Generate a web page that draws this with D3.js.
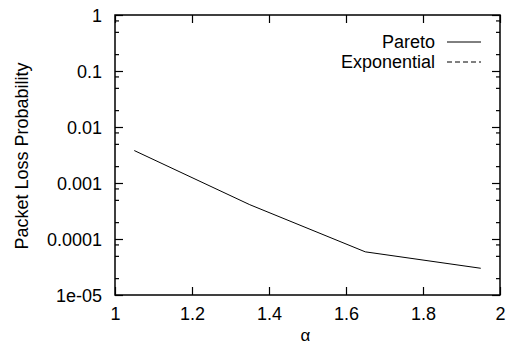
<!DOCTYPE html>
<html>
<head>
<meta charset="utf-8">
<script src="https://cdn.jsdelivr.net/npm/d3@7"></script>
<style>
  html, body { margin: 0; padding: 0; background: #fff; }
  svg { display: block; }
  text { font-family: "Liberation Sans", Arial, Helvetica, sans-serif; fill: #000; }
</style>
</head>
<body>
<svg id="chart" width="511" height="345"></svg>
<script>
// Shape parameter of the traffic distribution
const alphaValues = [1.05, 1.35, 1.65, 1.95];
// Packet loss probability for each traffic model
const paretoLoss = [0.0038, 0.00041, 0.000059, 0.00003];
const exponentialLoss = [0, 0, 0, 0];
// Axis ticks
const xTicks = [1, 1.2, 1.4, 1.6, 1.8, 2];
const xTickLabels = ["1", "1.2", "1.4", "1.6", "1.8", "2"];
const yTicks = [1e-5, 1e-4, 1e-3, 1e-2, 1e-1, 1];
const yTickLabels = ["1e-05", "0.0001", "0.001", "0.01", "0.1", "1"];
const yMinorMultipliers = [2, 5, 8];

const svg = d3.select("#chart");
const plotLeft = 115, plotRight = 500, plotTop = 15, plotBottom = 295;
const fs = 18;

const x = d3.scaleLinear().domain([1, 2]).range([plotLeft, plotRight]);
const y = d3.scaleLog().domain([1e-5, 1]).range([plotBottom, plotTop]);

const yMinor = [];
for (let i = 0; i < yTicks.length - 1; i++) {
  yMinorMultipliers.forEach(m => yMinor.push(yTicks[i] * m));
}

const majorLen = 8, minorLen = 4;

function styleAxis(g) {
  g.select(".domain").remove();
  g.selectAll("line").attr("stroke", "#000").attr("stroke-width", 1.2);
}

// Left axis: inward major ticks with labels
svg.append("g")
  .attr("transform", `translate(${plotLeft},0)`)
  .call(d3.axisLeft(y).tickValues(yTicks).tickSizeInner(-majorLen).tickSizeOuter(0)
    .tickFormat((d, i) => yTickLabels[i]))
  .call(styleAxis)
  .call(g => g.selectAll("text")
    .attr("x", -13).attr("dy", "0.36em")
    .style("font-size", fs + "px")
    .style("font-family", '"Liberation Sans", Arial, sans-serif'));

// Left minor ticks
svg.append("g")
  .attr("transform", `translate(${plotLeft},0)`)
  .call(d3.axisLeft(y).tickValues(yMinor).tickSizeInner(-minorLen).tickSizeOuter(0).tickFormat(""))
  .call(styleAxis);

// Right mirrored ticks
svg.append("g")
  .attr("transform", `translate(${plotRight},0)`)
  .call(d3.axisRight(y).tickValues(yTicks).tickSizeInner(-majorLen).tickSizeOuter(0).tickFormat(""))
  .call(styleAxis);
svg.append("g")
  .attr("transform", `translate(${plotRight},0)`)
  .call(d3.axisRight(y).tickValues(yMinor).tickSizeInner(-minorLen).tickSizeOuter(0).tickFormat(""))
  .call(styleAxis);

// Bottom axis with labels
svg.append("g")
  .attr("transform", `translate(0,${plotBottom})`)
  .call(d3.axisBottom(x).tickValues(xTicks).tickSizeInner(-majorLen).tickSizeOuter(0)
    .tickFormat((d, i) => xTickLabels[i]))
  .call(styleAxis)
  .call(g => g.selectAll("text")
    .attr("y", 24.5).attr("dy", 0)
    .style("font-size", fs + "px")
    .style("font-family", '"Liberation Sans", Arial, sans-serif'));

// Top mirrored ticks
svg.append("g")
  .attr("transform", `translate(0,${plotTop})`)
  .call(d3.axisTop(x).tickValues(xTicks).tickSizeInner(-majorLen).tickSizeOuter(0).tickFormat(""))
  .call(styleAxis);

// Plot frame
svg.append("rect")
  .attr("x", plotLeft).attr("y", plotTop)
  .attr("width", plotRight - plotLeft).attr("height", plotBottom - plotTop)
  .attr("fill", "none").attr("stroke", "#000").attr("stroke-width", 1.5);

// Axis titles
svg.append("text")
  .attr("x", (plotLeft + plotRight) / 2 - 2).attr("y", 341)
  .attr("text-anchor", "middle")
  .style("font-size", "17px")
  .text("α");

svg.append("text")
  .attr("transform", `translate(28,${(plotTop + plotBottom) / 2 + 1}) rotate(-90)`)
  .attr("text-anchor", "middle")
  .style("font-size", fs + "px")
  .text("Packet Loss Probability");

// Series lines
const line = d3.line()
  .defined(d => d[1] > 0)
  .x(d => x(d[0]))
  .y(d => y(d[1]));

const series = [
  { name: "Pareto", values: paretoLoss, dash: null },
  { name: "Exponential", values: exponentialLoss, dash: "5,3" }
];

series.forEach(s => {
  const pts = alphaValues.map((a, i) => [a, s.values[i]]);
  svg.append("path")
    .datum(pts)
    .attr("d", line)
    .attr("fill", "none")
    .attr("stroke", "#000")
    .attr("stroke-width", 1)
    .attr("stroke-dasharray", s.dash);
});

// Legend
const legend = svg.append("g");
series.forEach((s, i) => {
  const ly = 42 + i * 20;
  legend.append("text")
    .attr("x", 435).attr("y", ly).attr("dy", "0.35em")
    .attr("text-anchor", "end")
    .style("font-size", fs + "px")
    .text(s.name);
  legend.append("line")
    .attr("x1", 447).attr("x2", 481)
    .attr("y1", ly).attr("y2", ly)
    .attr("stroke", "#000").attr("stroke-width", 1)
    .attr("stroke-dasharray", s.dash);
});
</script>
</body>
</html>
